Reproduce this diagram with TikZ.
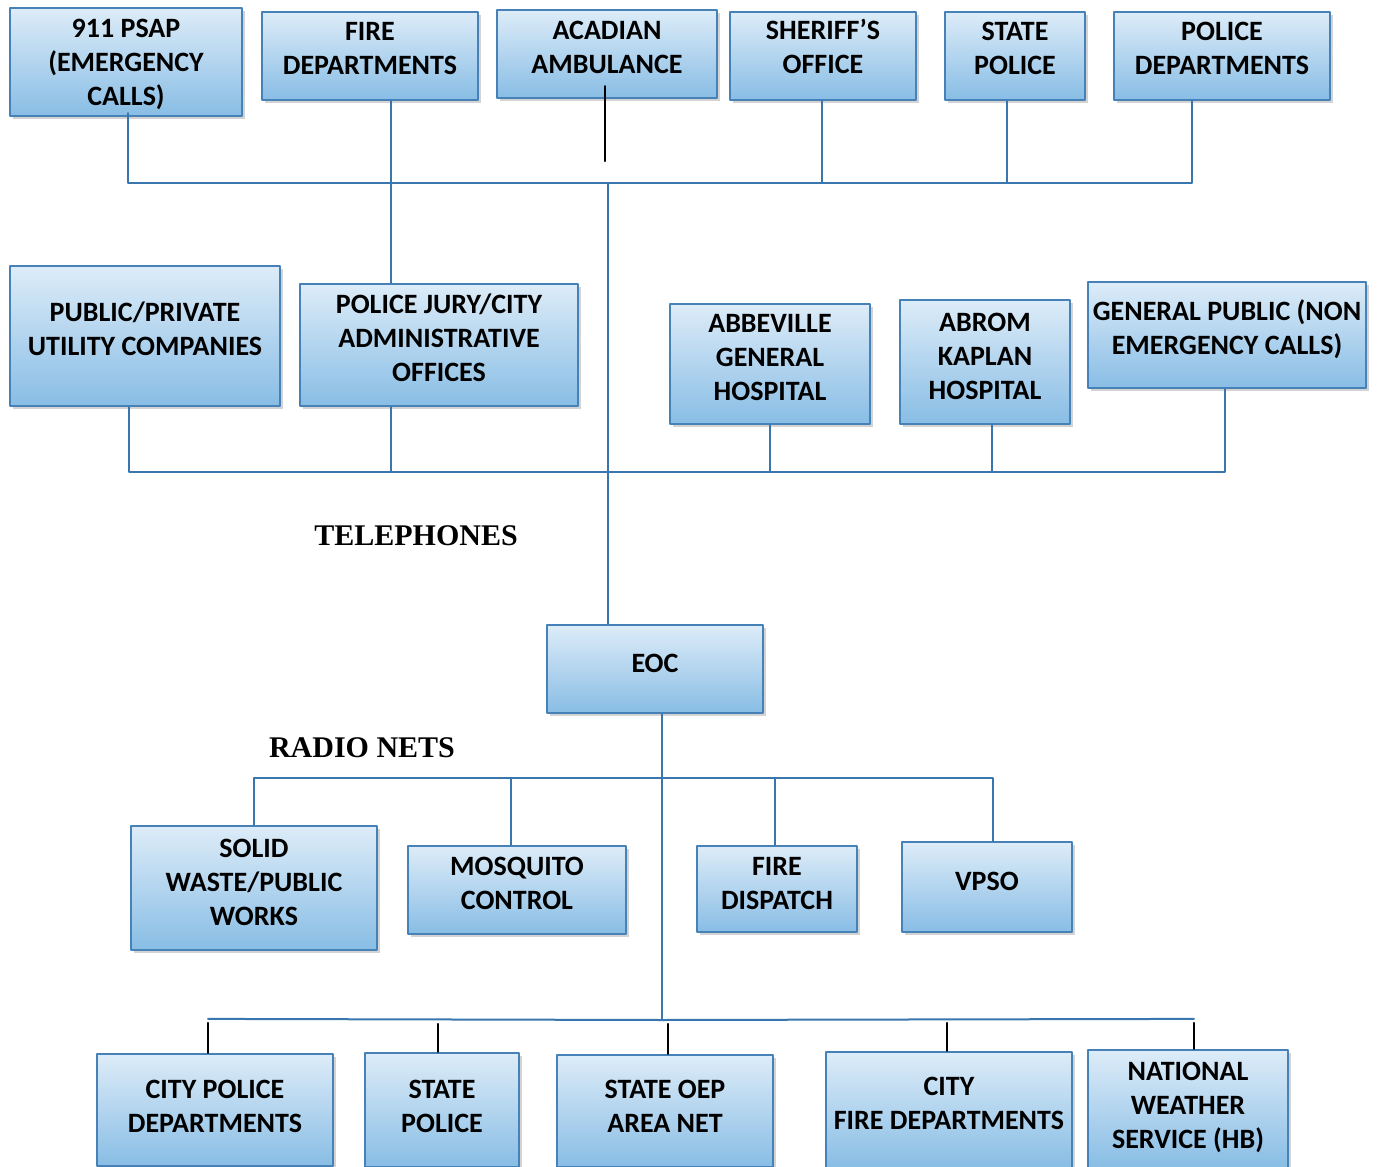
\documentclass[tikz,border=0pt]{standalone}
\usepackage{fontspec}
\setmainfont{Carlito}
\newfontfamily\netfont{Liberation Serif}
\usetikzlibrary{shadows,calc}

\definecolor{boxtop}{HTML}{DDECF8}
\definecolor{boxbot}{HTML}{88BDE5}
\definecolor{boxline}{HTML}{4682B8}
\definecolor{wireblue}{HTML}{3A76AE}

% box text, lifted a little above the middle of the box
\newcommand\boxtext[2][1.5pt]{\raisebox{#1}[\height][\depth]{\begin{tabular}{@{}c@{}}#2\end{tabular}}}

\tikzset{
  unit/.style={draw=boxline,line width=1.1pt,top color=boxtop,bottom color=boxbot,
    inner sep=0pt,align=center,font=\fontsize{14}{17}\selectfont\bfseries,
    drop shadow={opacity=.35,shadow xshift=1.5pt,shadow yshift=-1.5pt}},
  wire/.style={draw=wireblue,line width=1pt},
  stub/.style={draw=black,line width=1pt},
  net/.style={font=\netfont\fontsize{15}{18}\selectfont\bfseries}
}

\begin{document}
\begin{tikzpicture}[line cap=round,line join=round,x=0.5pt,y=-0.5pt]
\clip (0,0) rectangle (1377,1167);
% telephone row 1
\node[unit,minimum width=116pt,minimum height=54pt] (psap) at (126,62) {\boxtext[-1.5pt]{911 PSAP\\(EMERGENCY\\CALLS)}};
\node[unit,minimum width=108pt,minimum height=44pt] (fire) at (370,56) {\boxtext[2.5pt]{FIRE\\DEPARTMENTS}};
\node[unit,minimum width=110pt,minimum height=44pt] (acad) at (607,54) {\boxtext[2pt]{ACADIAN\\AMBULANCE}};
\node[unit,minimum width=93pt,minimum height=44pt] (sher) at (823,56) {\boxtext[3pt]{SHERIFF’S\\OFFICE}};
\node[unit,minimum width=70pt,minimum height=44pt] (state) at (1015,56) {\boxtext[2.5pt]{STATE\\POLICE}};
\node[unit,minimum width=108pt,minimum height=44pt] (poldep) at (1222,56) {\boxtext[2.5pt]{POLICE\\DEPARTMENTS}};
% telephone row 2
\node[unit,minimum width=135pt,minimum height=70pt] (util) at (145,336) {\boxtext[2pt]{PUBLIC/PRIVATE\\UTILITY COMPANIES}};
\node[unit,minimum width=139pt,minimum height=61pt] (jury) at (439,345) {\boxtext[2.2pt]{POLICE JURY/CITY\\ADMINISTRATIVE\\OFFICES}};
\node[unit,minimum width=100pt,minimum height=60pt] (abbe) at (770,364) {\boxtext[2pt]{ABBEVILLE\\GENERAL\\HOSPITAL}};
\node[unit,minimum width=85pt,minimum height=62pt] (abrom) at (985,362) {\boxtext{ABROM\\KAPLAN\\HOSPITAL}};
\node[unit,minimum width=139pt,minimum height=53pt] (genpub) at (1227,335) {\boxtext[2pt]{GENERAL PUBLIC (NON\\EMERGENCY CALLS)}};
\node[net] (tel) at (416,536) {TELEPHONES};
% eoc
\node[unit,minimum width=108pt,minimum height=44pt] (eoc) at (655,669) {\boxtext{EOC}};
\node[net] (radio) at (362,748) {RADIO NETS};
% radio row 1
\node[unit,minimum width=123pt,minimum height=62pt] (solid) at (254,888) {\boxtext{SOLID\\WASTE/PUBLIC\\WORKS}};
\node[unit,minimum width=109pt,minimum height=44pt] (mosq) at (517,890) {\boxtext[2.3pt]{MOSQUITO\\CONTROL}};
\node[unit,minimum width=80pt,minimum height=43pt] (fdisp) at (777,889) {\boxtext{FIRE\\DISPATCH}};
\node[unit,minimum width=85pt,minimum height=45pt] (vpso) at (987,887) {\boxtext{VPSO}};
% radio row 2
\node[unit,minimum width=118pt,minimum height=56pt] (cpd) at (215,1110) {\boxtext[0.8pt]{CITY POLICE\\DEPARTMENTS}};
\node[unit,minimum width=77pt,minimum height=57pt] (sp) at (442,1110) {\boxtext[0.8pt]{STATE\\POLICE}};
\node[unit,minimum width=108pt,minimum height=56pt] (oep) at (665,1111) {\boxtext[1.3pt]{STATE OEP\\AREA NET}};
\node[unit,minimum width=123pt,minimum height=58pt] (cfd) at (949,1110) {\boxtext[2.2pt]{CITY\\FIRE DEPARTMENTS}};
\node[unit,minimum width=100pt,minimum height=59pt] (nws) at (1188,1109) {\boxtext[0.8pt]{NATIONAL\\WEATHER\\SERVICE (HB)}};

% telephone lines
\coordinate (tbus) at (608,183);
\coordinate (hbus) at (608,472);
\draw[wire] ($(psap.south)+(2,-4)$) |- (tbus);
\draw[wire] ($(poldep.south)+(-30,0)$) |- (tbus);
\draw[wire] ($(sher.south)+(-1,0)$) |- (tbus);
\draw[wire] ($(state.south)+(-8,0)$) |- (tbus);
\draw[wire] ($(fire.south)+(21,0)$) |- (tbus);
\draw[wire] ($(fire.south)+(21,0)$) -- ($(jury.north)+(-48,0)$);
\draw[stub] ($(acad.south)+(-2,-13)$) -- ($(acad.south)+(-2,62)$);
\draw[wire] (tbus) -- (eoc.north -| tbus);
\draw[wire] ($(util.south)+(-16,0)$) |- (hbus);
\draw[wire] ($(jury.south)+(-48,0)$) |- (hbus);
\draw[wire] (abbe.south) |- (hbus);
\draw[wire] ($(abrom.south)+(7,0)$) |- (hbus);
\draw[wire] ($(genpub.south)+(-2,0)$) |- (hbus);
% radio lines
\coordinate (rbus) at (662,778);
\coordinate (lbus) at (662,1020);
\draw[wire] ($(eoc.south)+(7,0)$) -- (lbus);
\draw[wire] (solid.north) |- (rbus);
\draw[wire] ($(mosq.north)+(-6,0)$) |- (rbus);
\draw[wire] ($(fdisp.north)+(-2,0)$) |- (rbus);
\draw[wire] ($(vpso.north)+(6,0)$) |- (rbus);
\draw[wire] ($(cpd.north)+(-7,-34)$) -- (lbus) -- ($(nws.north)+(6,-30)$);
\draw[stub] ($(cpd.north)+(-7,-30)$) -- ($(cpd.north)+(-7,0)$);
\draw[stub] ($(sp.north)+(-4,-28)$) -- ($(sp.north)+(-4,0)$);
\draw[stub] ($(oep.north)+(3,-30)$) -- ($(oep.north)+(3,0)$);
\draw[stub] ($(cfd.north)+(-2,-28)$) -- ($(cfd.north)+(-2,0)$);
\draw[stub] ($(nws.north)+(6,-26)$) -- ($(nws.north)+(6,0)$);
\end{tikzpicture}
\end{document}
